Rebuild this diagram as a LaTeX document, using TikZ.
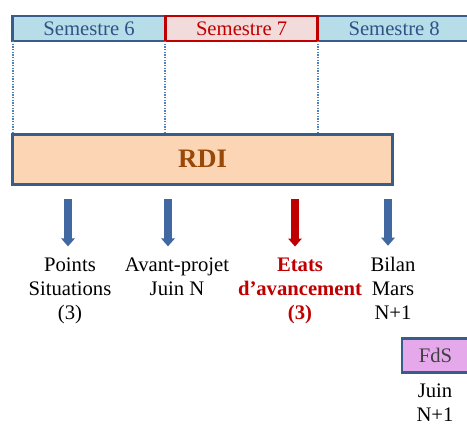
\documentclass[tikz,border=0pt]{standalone}
\usepackage{fontspec}
\setmainfont{Liberation Serif}
\usetikzlibrary{arrows.meta,positioning}
\definecolor{edge}{RGB}{56,93,138}
\definecolor{semfill}{RGB}{183,222,232}
\definecolor{semtext}{RGB}{47,82,135}
\definecolor{hot}{RGB}{192,0,0}
\definecolor{hotfill}{RGB}{242,220,219}
\definecolor{rdifill}{RGB}{252,213,181}
\definecolor{rditext}{RGB}{152,72,7}
\definecolor{fdsfill}{RGB}{229,169,235}
\definecolor{arrblue}{RGB}{65,104,160}
\definecolor{dotblue}{RGB}{79,129,189}

\begin{document}
\begin{tikzpicture}[x=0.75pt,y=-0.75pt,>={Triangle[width=10pt,length=6pt]},
sem/.style={draw=edge,line width=2.2pt,fill=semfill,text=semtext,outer sep=0pt,inner sep=0pt,
  minimum width=114.4pt,minimum height=18.75pt,font=\fontsize{15.5}{18}\selectfont},
semnow/.style={sem,draw=hot,fill=hotfill,text=hot},
rdibox/.style={draw=edge,line width=2.2pt,fill=rdifill,text=rditext,outer sep=0pt,
  minimum width=284.5pt,minimum height=37.5pt,font=\fontsize{20}{24}\selectfont\bfseries},
fdsbox/.style={draw=edge,line width=2.2pt,fill=fdsfill,text=black!75,outer sep=0pt,
  minimum width=50.25pt,minimum height=26pt,font=\fontsize{15.5}{18}\selectfont},
lbl/.style={align=center,inner sep=1pt,anchor=base,font=\fontsize{15.5}{18}\selectfont},
lblhot/.style={lbl,text=hot,font=\fontsize{15.5}{18}\selectfont\bfseries},
dots/.style={dash pattern=on 1pt off 1pt,line width=1.5pt,dotblue},
arr/.style={->,line width=5.5pt,arrblue,shorten >=7pt},
arrhot/.style={arr,hot}]
\useasboundingbox (0,0) rectangle (467,430);
% semestres
\node[sem] (s6) at (89.1,28.5) {Semestre 6};
\node[sem,right=114.4pt of s6] (s8) {Semestre 8};
\node[semnow,right=0pt of s6] (s7) {Semestre 7};
% RDI
\node[rdibox] (rdi) at (202.5,159.2) {RDI};
\draw[dots] (s6.south west) -- (s6.south west |- rdi.north);
\draw[dots] (s7.south west) -- (s7.south west |- rdi.north);
\draw[dots] (s7.south east) -- (s7.south east |- rdi.north);
% jalons (base = derniere ligne)
\node[lbl] (pts) at (70,319) {Points\\Situations\\(3)};
\node[lbl] (avp) at (177,295) {Avant-projet\\Juin N};
\node[lblhot] (eta) at (300,319) {Etats\\d’avancement\\(3)};
\node[lbl] (bil) at (393,319) {Bilan\\Mars\\N+1};
\coordinate (t1) at (68,199);
\coordinate (t2) at (168,199);
\coordinate (t3) at (295,199);
\coordinate (t4) at (388,199);
\draw[arr] (t1) -- (t1 |- pts.north);
\draw[arr] (t2) -- (t2 |- avp.north);
\draw[arrhot] (t3) -- (t3 |- eta.north);
\draw[arr] (t4) -- (t4 |- bil.north);
% FdS
\node[fdsbox] (fds) at (435.5,355.5) {FdS};
\node[lbl] (juin) at (435,421) {Juin\\N+1};
\end{tikzpicture}
\end{document}
